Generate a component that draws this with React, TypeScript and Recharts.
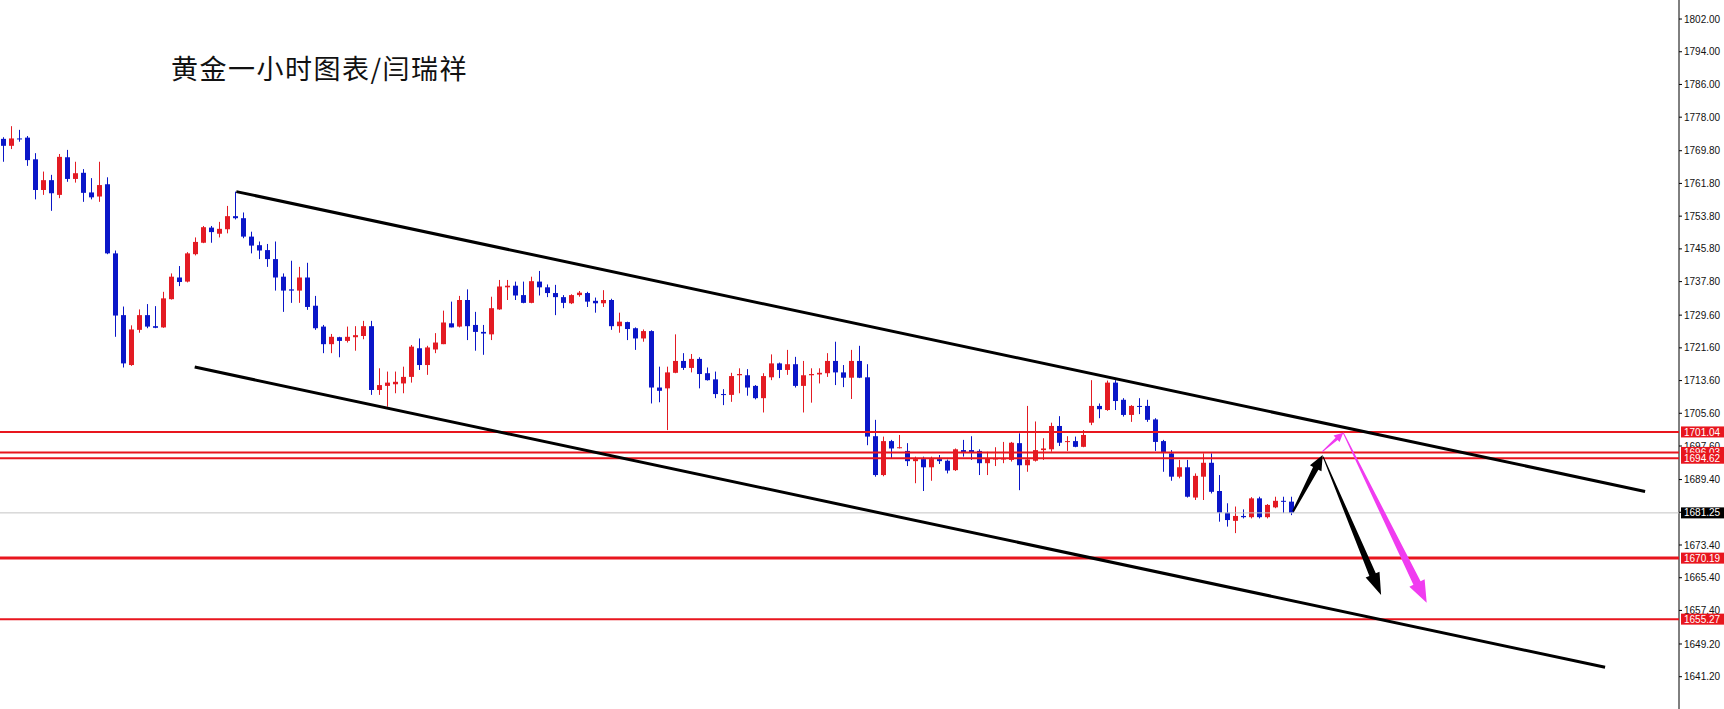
import React from "react";
import { ComposedChart, Bar, XAxis, YAxis, ReferenceLine } from "recharts";

// 1h gold candles (oldest first)
const opens = [
  1772.7, 1771.0, 1772.8, 1773.0, 1767.7, 1760.2, 1762.6, 1759.0, 1768.2, 1762.9,
  1764.4, 1759.6, 1758.6, 1761.6, 1744.7, 1729.6, 1717.4, 1726.0, 1729.6, 1726.9,
  1726.6, 1733.5, 1738.8, 1737.8, 1744.5, 1747.3, 1751.0, 1749.5, 1750.6, 1753.8,
  1753.3, 1748.8, 1746.7, 1745.5, 1743.3, 1739.0, 1735.9, 1735.6, 1738.8, 1731.9,
  1726.8, 1722.5, 1724.2, 1723.3, 1724.2, 1724.5, 1726.9, 1711.3, 1712.3, 1712.7,
  1712.9, 1714.5, 1721.5, 1717.4, 1721.2, 1722.5, 1727.6, 1726.8, 1733.3, 1727.2,
  1725.5, 1724.9, 1731.0, 1736.4, 1736.8, 1734.5, 1732.6, 1737.8, 1736.4, 1735.0,
  1734.0, 1732.5, 1734.5, 1735.0, 1733.1, 1732.5, 1733.3, 1726.9, 1727.9, 1726.4,
  1723.9, 1725.7, 1711.9, 1711.7, 1715.5, 1718.4, 1716.7, 1718.9, 1715.4, 1713.9,
  1710.3, 1710.1, 1714.9, 1714.9, 1712.3, 1709.3, 1714.4, 1717.8, 1716.2, 1717.6,
  1712.3, 1714.9, 1715.1, 1715.4, 1718.4, 1715.6, 1714.3, 1718.4, 1714.4, 1700.0,
  1690.5, 1698.8, 1697.2, 1696.4, 1693.9, 1694.4, 1692.4, 1694.4, 1694.0, 1691.7,
  1696.6, 1696.6, 1696.4, 1693.4, 1694.3, 1694.3, 1694.2, 1698.3, 1692.9, 1694.0,
  1696.6, 1696.8, 1702.5, 1698.6, 1698.8, 1697.4, 1703.3, 1707.4, 1706.4, 1713.1,
  1708.9, 1705.2, 1707.4, 1707.4, 1704.1, 1698.8, 1695.8, 1690.1, 1692.4, 1685.0,
  1690.1, 1693.5, 1686.6, 1681.3, 1679.3, 1680.5, 1680.2, 1684.8, 1680.2, 1682.6,
  1684.2, 1684.0,
];

const highs = [
  1773.1, 1775.8, 1774.9, 1773.4, 1769.2, 1764.7, 1763.9, 1769.0, 1770.0, 1767.1,
  1765.3, 1763.1, 1767.1, 1763.3, 1745.4, 1731.7, 1727.1, 1731.0, 1732.3, 1731.8,
  1735.3, 1739.8, 1741.6, 1745.0, 1748.6, 1751.4, 1751.4, 1752.4, 1756.3, 1759.8,
  1754.7, 1750.0, 1747.6, 1747.0, 1747.6, 1739.8, 1742.9, 1741.4, 1742.4, 1734.3,
  1727.2, 1725.0, 1724.3, 1726.8, 1726.9, 1728.2, 1728.2, 1716.6, 1715.8, 1715.8,
  1717.0, 1722.3, 1723.9, 1722.1, 1725.2, 1730.7, 1732.9, 1734.3, 1735.9, 1730.4,
  1727.2, 1734.1, 1738.2, 1738.2, 1737.8, 1737.8, 1739.0, 1740.4, 1737.1, 1737.0,
  1734.5, 1734.7, 1735.5, 1735.3, 1733.9, 1735.7, 1733.6, 1730.2, 1728.0, 1726.6,
  1726.1, 1725.9, 1717.0, 1717.0, 1724.9, 1720.3, 1720.1, 1719.3, 1716.8, 1715.8,
  1711.5, 1715.5, 1716.6, 1716.4, 1712.5, 1715.4, 1720.0, 1718.0, 1721.1, 1719.4,
  1718.4, 1716.6, 1716.6, 1720.3, 1723.1, 1717.4, 1721.1, 1722.1, 1717.6, 1704.0,
  1699.9, 1699.1, 1700.3, 1698.3, 1695.0, 1695.0, 1695.0, 1695.4, 1694.3, 1697.0,
  1699.1, 1700.0, 1696.8, 1696.2, 1697.3, 1698.6, 1698.6, 1700.7, 1707.4, 1703.6,
  1699.5, 1703.3, 1704.9, 1700.0, 1699.9, 1701.5, 1713.7, 1708.0, 1713.6, 1713.7,
  1709.3, 1707.6, 1709.3, 1708.9, 1704.4, 1699.1, 1696.6, 1694.2, 1694.2, 1690.9,
  1695.8, 1695.8, 1690.5, 1683.6, 1682.8, 1682.1, 1685.1, 1685.2, 1683.4, 1685.2,
  1685.2, 1685.2,
];

const lows = [
  1767.1, 1770.2, 1772.0, 1766.1, 1757.9, 1759.0, 1755.1, 1758.2, 1762.2, 1762.0,
  1757.3, 1757.9, 1757.3, 1744.5, 1724.3, 1716.8, 1717.2, 1725.3, 1726.4, 1726.4,
  1726.5, 1733.4, 1736.7, 1737.6, 1744.2, 1747.2, 1747.3, 1748.6, 1749.6, 1753.0,
  1748.4, 1744.7, 1743.3, 1741.4, 1735.6, 1730.4, 1732.6, 1732.6, 1730.9, 1726.0,
  1720.3, 1720.3, 1719.3, 1722.9, 1720.9, 1723.7, 1710.1, 1710.1, 1707.2, 1710.5,
  1710.5, 1713.1, 1716.2, 1715.0, 1720.3, 1722.5, 1726.6, 1726.6, 1723.5, 1720.9,
  1719.9, 1723.5, 1730.9, 1733.3, 1733.3, 1732.5, 1732.5, 1734.4, 1734.0, 1729.6,
  1731.3, 1732.3, 1734.1, 1731.6, 1730.2, 1731.6, 1726.0, 1725.3, 1723.5, 1721.1,
  1723.1, 1708.0, 1708.3, 1701.5, 1715.4, 1716.2, 1715.6, 1711.7, 1713.6, 1709.3,
  1707.6, 1708.4, 1710.5, 1709.9, 1709.0, 1705.8, 1713.7, 1714.2, 1715.0, 1711.9,
  1705.8, 1708.2, 1712.9, 1714.5, 1712.5, 1712.0, 1709.1, 1714.2, 1697.8, 1690.1,
  1690.2, 1694.6, 1697.0, 1692.7, 1688.5, 1686.6, 1689.1, 1693.2, 1690.9, 1691.5,
  1695.0, 1694.2, 1690.5, 1690.5, 1692.7, 1693.4, 1693.8, 1686.8, 1691.3, 1693.8,
  1694.2, 1696.2, 1697.6, 1696.4, 1697.3, 1697.3, 1702.7, 1704.4, 1706.2, 1706.4,
  1704.8, 1703.5, 1705.4, 1703.5, 1696.4, 1691.3, 1689.1, 1689.7, 1685.0, 1684.4,
  1684.4, 1686.0, 1679.1, 1677.9, 1676.3, 1679.9, 1679.9, 1679.9, 1679.9, 1682.4,
  1681.2, 1680.7,
];

const closes = [
  1771.0, 1772.8, 1772.6, 1767.5, 1760.2, 1762.6, 1759.4, 1768.3, 1762.9, 1764.3,
  1759.5, 1758.4, 1761.4, 1744.7, 1729.5, 1717.8, 1726.1, 1729.6, 1726.8, 1726.5,
  1733.7, 1739.0, 1737.7, 1744.7, 1747.5, 1751.1, 1749.9, 1750.7, 1753.8, 1753.3,
  1748.8, 1746.6, 1745.4, 1743.3, 1738.8, 1735.6, 1735.6, 1738.8, 1731.6, 1726.4,
  1722.5, 1724.3, 1723.3, 1724.3, 1724.7, 1726.9, 1711.3, 1712.5, 1713.1, 1713.3,
  1714.5, 1721.9, 1717.4, 1721.7, 1722.9, 1727.8, 1726.6, 1733.3, 1726.9, 1725.5,
  1725.1, 1731.3, 1736.6, 1736.8, 1734.4, 1732.6, 1737.9, 1736.4, 1735.0, 1734.0,
  1732.6, 1734.5, 1735.1, 1732.9, 1732.5, 1733.3, 1726.9, 1728.0, 1726.2, 1723.9,
  1725.7, 1711.9, 1711.1, 1715.6, 1718.4, 1716.7, 1718.9, 1715.2, 1713.7, 1710.3,
  1710.2, 1714.7, 1715.2, 1711.9, 1709.3, 1714.7, 1717.8, 1716.2, 1717.6, 1712.3,
  1714.9, 1715.2, 1715.5, 1718.4, 1715.6, 1714.3, 1718.4, 1714.3, 1699.9, 1690.5,
  1698.8, 1697.0, 1697.3, 1693.9, 1694.4, 1692.4, 1694.4, 1693.9, 1691.6, 1696.8,
  1696.0, 1696.0, 1693.4, 1694.6, 1694.6, 1694.6, 1698.4, 1692.9, 1694.3, 1696.6,
  1697.0, 1702.5, 1698.4, 1698.8, 1697.4, 1700.3, 1707.4, 1706.6, 1713.1, 1708.6,
  1705.2, 1707.4, 1707.3, 1704.0, 1698.6, 1696.0, 1690.1, 1692.4, 1685.2, 1690.3,
  1693.5, 1686.4, 1681.3, 1679.5, 1680.5, 1680.2, 1684.8, 1680.2, 1683.2, 1684.2,
  1684.1, 1681.25,
];

const priceTicks = [
  1802.0, 1794.0, 1786.0, 1778.0, 1769.8, 1761.8, 1753.8, 1745.8, 1737.8, 1729.6,
  1721.6, 1713.6, 1705.6, 1697.6, 1689.4, 1681.4, 1673.4, 1665.4, 1657.4, 1649.2,
  1641.2,
];

// horizontal support / resistance levels
const levels = [1701.04, 1696.03, 1694.62, 1670.19, 1655.27];
const lastPrice = 1681.25;

// channel lines: [candle index, price]
const channelTop = [
  { x: 29, y: 1759.8 },
  { x: 205.1, y: 1686.5 },
];
const channelBottom = [
  { x: 23.8, y: 1716.9 },
  { x: 200.1, y: 1643.5 },
];

// forecast arrows
const blackUp = [
  { x: 161.1, y: 1681.6 },
  { x: 164.8, y: 1695.4 },
];
const blackDown = [
  { x: 164.85, y: 1695.0 },
  { x: 172.1, y: 1661.2 },
];
const pinkUp = [
  { x: 164.75, y: 1696.2 },
  { x: 167.37, y: 1700.85 },
];
const pinkDown = [
  { x: 167.37, y: 1700.85 },
  { x: 177.8, y: 1659.3 },
];

const data = opens.map((o, i) => ({
  i,
  o,
  h: highs[i],
  l: lows[i],
  c: closes[i],
  range: [lows[i], highs[i]],
}));

const BLUE = "#0a16c8";
const RED = "#e31b23";
const LEVEL_RED = "#e8161e";
const PINK = "#f03cf0";
const FONT = "Liberation Sans, Arial, sans-serif";
const X_DOMAIN = [-0.54, 209.34];
const Y_DOMAIN = [1633.3, 1806.65];

const Candle = (props: any) => {
  const { x, y, width, height, payload } = props;
  const { o, h, l, c } = payload;
  const cx = Math.floor(x + width / 2) + 0.5;
  const span = h - l || 1;
  const py = (v: number) => y + ((h - v) / span) * height;
  const color = c >= o ? RED : BLUE;
  const top = py(Math.max(o, c));
  const bot = py(Math.min(o, c));
  return (
    <g>
      <line x1={cx} x2={cx} y1={y} y2={y + height} stroke={color} strokeWidth={1} />
      <rect x={cx - 2.5} y={top} width={5} height={Math.max(bot - top, 1)} fill={color} />
    </g>
  );
};

const priceTag = (text: string, bg: string) => (p: any) => {
  const vb = p.viewBox || { x: 0, y: 0, width: 0 };
  const x = vb.x + vb.width + 2;
  const y = vb.y;
  return (
    <g>
      <rect x={x} y={y - 5.5} width={46} height={11} fill={bg} />
      <text x={x + 3} y={y} dy="0.36em" fill="#fff" fontSize={10} fontFamily={FONT}>
        {text}
      </text>
    </g>
  );
};

const arrowShape =
  (color: string, w0: number, w1: number, hw: number, hl: number) => (p: any) => {
    const { x1, y1, x2, y2 } = p;
    const dx = x2 - x1;
    const dy = y2 - y1;
    const len = Math.hypot(dx, dy) || 1;
    const ux = dx / len;
    const uy = dy / len;
    const nx = -uy;
    const ny = ux;
    const bx = x2 - ux * hl;
    const by = y2 - uy * hl;
    const pts = [
      [x1 + (nx * w0) / 2, y1 + (ny * w0) / 2],
      [bx + (nx * w1) / 2, by + (ny * w1) / 2],
      [bx + (nx * hw) / 2, by + (ny * hw) / 2],
      [x2, y2],
      [bx - (nx * hw) / 2, by - (ny * hw) / 2],
      [bx - (nx * w1) / 2, by - (ny * w1) / 2],
      [x1 - (nx * w0) / 2, y1 - (ny * w0) / 2],
    ];
    return <polygon points={pts.map((q) => q.join(",")).join(" ")} fill={color} />;
  };

const layer: React.CSSProperties = { position: "absolute", left: 0, top: 0 };

const App = () => {
  return (
    <div
      style={{
        position: "fixed",
        left: 0,
        top: 0,
        width: 1724,
        height: 709,
        background: "#fff",
        overflow: "hidden",
      }}
    >
      {/* Candles and price axis */}
      <div style={layer}>
        <ComposedChart
          width={1724}
          height={709}
          data={data}
          margin={{ top: 0, right: 0, left: 0, bottom: 0 }}
        >
          <XAxis type="number" dataKey="i" domain={X_DOMAIN} allowDataOverflow hide />
          <YAxis
            orientation="right"
            width={45}
            domain={Y_DOMAIN}
            allowDataOverflow
            ticks={priceTicks}
            interval={0}
            tickFormatter={(v: number) => v.toFixed(2)}
            tick={{ fill: "#111", fontSize: 10, fontFamily: FONT }}
            tickSize={3}
            tickLine={{ stroke: "#000" }}
            axisLine={{ stroke: "#000" }}
          />
          <Bar dataKey="range" barSize={5} shape={<Candle />} isAnimationActive={false} />
        </ComposedChart>
      </div>

      {/* Drawing objects on top: levels, channel, arrows */}
      <div style={{ ...layer, pointerEvents: "none" }}>
        <ComposedChart
          width={1724}
          height={709}
          data={data}
          margin={{ top: 0, right: 0, left: 0, bottom: 0 }}
        >
          <XAxis type="number" dataKey="i" domain={X_DOMAIN} allowDataOverflow hide />
          <YAxis
            orientation="right"
            width={45}
            domain={Y_DOMAIN}
            allowDataOverflow
            tick={false}
            tickLine={false}
            axisLine={false}
          />

          <ReferenceLine
            y={lastPrice}
            stroke="#c4c4c4"
            strokeWidth={1}
            label={priceTag(lastPrice.toFixed(2), "#000")}
          />

          {levels.map((v) => (
            <ReferenceLine
              key={v}
              y={v}
              stroke={LEVEL_RED}
              strokeWidth={v === 1670.19 ? 3 : 2}
              label={priceTag(v.toFixed(2), LEVEL_RED)}
            />
          ))}

          <ReferenceLine segment={channelTop} stroke="#000" strokeWidth={3} />
          <ReferenceLine segment={channelBottom} stroke="#000" strokeWidth={3} />

          <ReferenceLine segment={blackUp} shape={arrowShape("#000", 2, 6, 13, 15)} />
          <ReferenceLine segment={blackDown} shape={arrowShape("#000", 1, 7, 15, 22)} />
          <ReferenceLine segment={pinkUp} shape={arrowShape(PINK, 1, 3, 9, 9)} />
          <ReferenceLine segment={pinkDown} shape={arrowShape(PINK, 1, 8, 17, 22)} />
        </ComposedChart>
      </div>

      <div
        style={{
          position: "absolute",
          left: 171,
          top: 54,
          fontSize: 27,
          lineHeight: "27px",
          letterSpacing: 1.5,
          fontFamily: "Noto Sans CJK SC, sans-serif",
          color: "#111",
          whiteSpace: "nowrap",
        }}
      >
        黄金一小时图表/闫瑞祥
      </div>
    </div>
  );
};

export default App;
